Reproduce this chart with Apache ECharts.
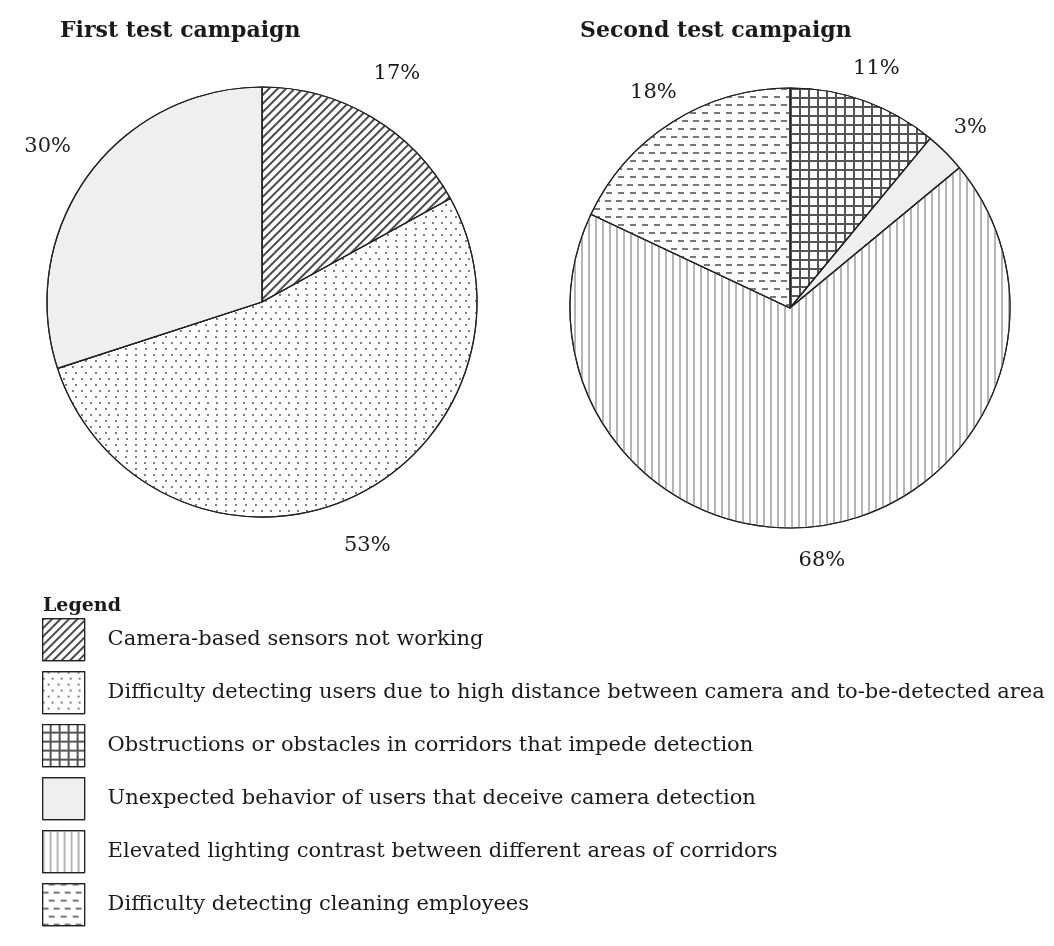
<!DOCTYPE html>
<html><head><meta charset="utf-8">
<script src="https://cdn.jsdelivr.net/npm/echarts@6/dist/echarts.min.js"></script>
<style>html,body{margin:0;padding:0;background:#fff}#c{width:1054px;height:946px}</style>
</head><body><div id="c"></div>
<script>
const categories = [
  'Camera-based sensors not working',
  'Difficulty detecting users due to high distance between camera and to-be-detected area',
  'Obstructions or obstacles in corridors that impede detection',
  'Unexpected behavior of users that deceive camera detection',
  'Elevated lighting contrast between different areas of corridors',
  'Difficulty detecting cleaning employees'
];
const firstNames = [categories[0], categories[1], categories[3]];
const firstValues = [17, 53, 30];
const secondNames = [categories[2], categories[3], categories[4], categories[5]];
const secondValues = [11, 3, 68, 18];
const titles = ['First test campaign', 'Second test campaign'];

const FONT = '"DejaVu Serif", "Liberation Serif", serif';
const styles = {};
styles[categories[0]] = { color: '#ffffff', decal: { symbol: 'rect', color: '#4a4a4a', dashArrayX: [1, 0], dashArrayY: [2, 4], rotation: -Math.PI / 4 } };
styles[categories[1]] = { color: '#ffffff', decal: { symbol: 'circle', color: '#555', symbolSize: 1, dashArrayX: [[2, 7], [0, 4.5, 2, 2.5]], dashArrayY: [2, 3.5] } };
styles[categories[2]] = { color: '#555555', decal: { symbol: 'rect', color: '#ffffff', symbolSize: 1, dashArrayX: [7, 1.2], dashArrayY: [7, 1.2] } };
styles[categories[3]] = { color: '#efefef', decal: { symbol: 'none' } };
styles[categories[4]] = { color: '#ffffff', decal: { symbol: 'rect', color: '#b5b5b5', dashArrayX: [1.2, 5], dashArrayY: [1, 0] } };
styles[categories[5]] = { color: '#ffffff', decal: { symbol: 'rect', color: '#777', dashArrayX: [[6, 5], [0, 5.5, 6, 0]], dashArrayY: [1.6, 6] } };

function mkData(names, values) {
  return names.map((n, i) => ({ name: n, value: values[i], itemStyle: Object.assign({ borderColor: '#222', borderWidth: 1.2 }, styles[n]) }));
}
function mkLabelData(names, values) {
  return names.map((n, i) => ({ name: n, value: values[i] }));
}

const chart = echarts.init(document.getElementById('c'), null, { renderer: 'canvas' });
chart.setOption({
  animation: false,
  backgroundColor: '#fff',
  title: [
    { text: titles[0], left: 55, top: 15, textStyle: { fontFamily: FONT, fontSize: 22, fontWeight: 'bold', color: '#1a1a1a' } },
    { text: titles[1], left: 575, top: 15, textStyle: { fontFamily: FONT, fontSize: 22, fontWeight: 'bold', color: '#1a1a1a' } },
    { text: 'Legend', left: 38, top: 592, textStyle: { fontFamily: FONT, fontSize: 19, fontWeight: 'bold', color: '#1a1a1a' } }
  ],
  legend: {
    orient: 'vertical', left: 42, top: 618, padding: 0,
    data: categories,
    icon: 'rect', itemWidth: 42, itemHeight: 42, itemGap: 9.8,
    selectedMode: false,
    itemStyle: { borderColor: '#222', borderWidth: 1.2 },
    textStyle: { fontFamily: FONT, fontSize: 21, color: '#1a1a1a', padding: [0, 0, 0, 18] }
  },
  series: [
    { type: 'pie', center: [262, 302], radius: [0, 215], startAngle: 90, clockwise: true, silent: true,
      label: { show: false }, labelLine: { show: false }, data: mkData(firstNames, firstValues) },
    { type: 'pie', center: [790, 308], radius: [0, 220], startAngle: 90, clockwise: true, silent: true,
      label: { show: false }, labelLine: { show: false }, data: mkData(secondNames, secondValues) },
    { type: 'pie', center: [262, 302], radius: [252, 272], startAngle: 90, clockwise: true, silent: true,
      itemStyle: { color: 'rgba(0,0,0,0)', borderWidth: 0 }, legendHoverLink: false,
      label: { show: true, position: 'inside', formatter: '{c}%', fontFamily: FONT, fontSize: 21, color: '#1a1a1a' },
      data: mkLabelData(firstNames, firstValues) },
    { type: 'pie', center: [790, 308], radius: [242, 262], startAngle: 90, clockwise: true, silent: true,
      itemStyle: { color: 'rgba(0,0,0,0)', borderWidth: 0 }, legendHoverLink: false,
      label: { show: true, position: 'inside', formatter: '{c}%', fontFamily: FONT, fontSize: 21, color: '#1a1a1a' },
      data: mkLabelData(secondNames, secondValues) }
  ]
});
</script></body></html>
